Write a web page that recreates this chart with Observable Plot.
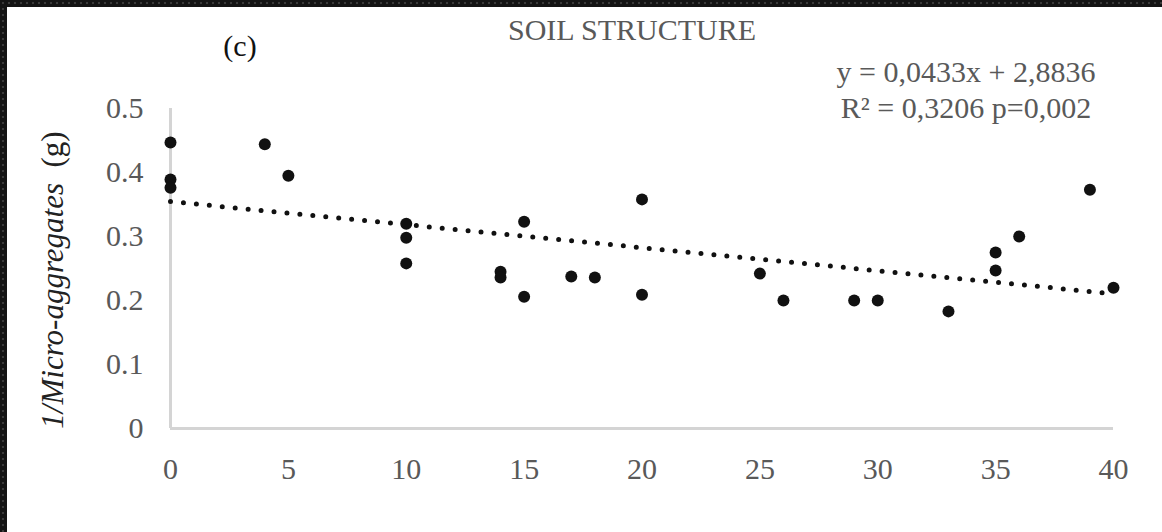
<!DOCTYPE html>
<html>
<head>
<meta charset="utf-8">
<script src="https://cdn.jsdelivr.net/npm/d3@7"></script>
<script src="https://cdn.jsdelivr.net/npm/@observablehq/plot@0.6"></script>
<style>
  html, body { margin: 0; padding: 0; }
  body {
    width: 1162px; height: 532px; position: relative; overflow: hidden;
    background-color: #141414;
    background-image: radial-gradient(#3a3a3a 1px, transparent 1.6px);
    background-size: 6px 6px;
  }
  #panel { position: absolute; left: 7px; top: 7px; right: 0; bottom: 0; background: #fff; }
  #chart { position: absolute; left: 0; top: 0; }
  #overlay { position: absolute; left: 0; top: 0; pointer-events: none; }
</style>
</head>
<body>
<div id="panel"></div>
<div id="chart"></div>
<svg id="overlay" width="1162" height="532" font-family="Liberation Serif, Times New Roman, serif">
  <text x="632" y="40" text-anchor="middle" font-size="30" fill="#595959">SOIL STRUCTURE</text>
  <text x="240" y="56" text-anchor="middle" font-size="30" fill="#111">(c)</text>
  <text x="966" y="82" text-anchor="middle" font-size="30" fill="#595959">y = 0,0433x + 2,8836</text>
  <text x="966" y="118" text-anchor="middle" font-size="30" fill="#595959">R² = 0,3206 p=0,002</text>
  <text transform="translate(63,280) rotate(-90)" text-anchor="middle" font-size="31" fill="#222"><tspan font-style="italic">1/Micro-aggregates</tspan><tspan xml:space="preserve">  (g)</tspan></text>
</svg>
<script>
// Data
const xValues = [0, 0, 0, 4, 5, 10, 10, 10, 14, 14, 15, 15, 17, 18, 20, 20, 25, 26, 29, 30, 33, 35, 35, 36, 39, 40];
const yValues = [0.447, 0.389, 0.376, 0.444, 0.395, 0.320, 0.298, 0.258, 0.245, 0.236, 0.323, 0.206, 0.2375, 0.236, 0.358, 0.209, 0.242, 0.200, 0.200, 0.200, 0.183, 0.275, 0.247, 0.300, 0.373, 0.220];
const xTicks = [0, 5, 10, 15, 20, 25, 30, 35, 40];
const yTicks = [0, 0.1, 0.2, 0.3, 0.4, 0.5];

const data = xValues.map((x, i) => ({x, y: yValues[i]}));

const chart = Plot.plot({
  width: 1162,
  height: 532,
  marginLeft: 170,
  marginRight: 49,
  marginTop: 108,
  marginBottom: 104,
  style: {background: "transparent", fontFamily: "Liberation Serif, Times New Roman, serif", fontSize: "30px", color: "#595959"},
  x: {domain: [0, 40]},
  y: {domain: [0, 0.5]},
  marks: [
    Plot.ruleX([0], {stroke: "#d4d4d4", strokeWidth: 3}),
    Plot.ruleY([0], {stroke: "#d4d4d4", strokeWidth: 3}),
    Plot.axisX({ticks: xTicks, tickSize: 0, tickPadding: 29, fontSize: 30, fill: "#595959", label: null}),
    Plot.axisY({ticks: yTicks, tickSize: 0, tickPadding: 27, fontSize: 30, fill: "#595959", label: null,
      tickFormat: d => d === 0 ? "0" : d.toFixed(1)}),
    Plot.linearRegressionY(data, {x: "x", y: "y", ci: 0, stroke: "#111", strokeWidth: 5,
      strokeDasharray: "0 13", strokeLinecap: "round"}),
    Plot.dot(data, {x: "x", y: "y", r: 6, fill: "#111", stroke: "none"})
  ]
});
document.getElementById("chart").appendChild(chart);
</script>
</body>
</html>
